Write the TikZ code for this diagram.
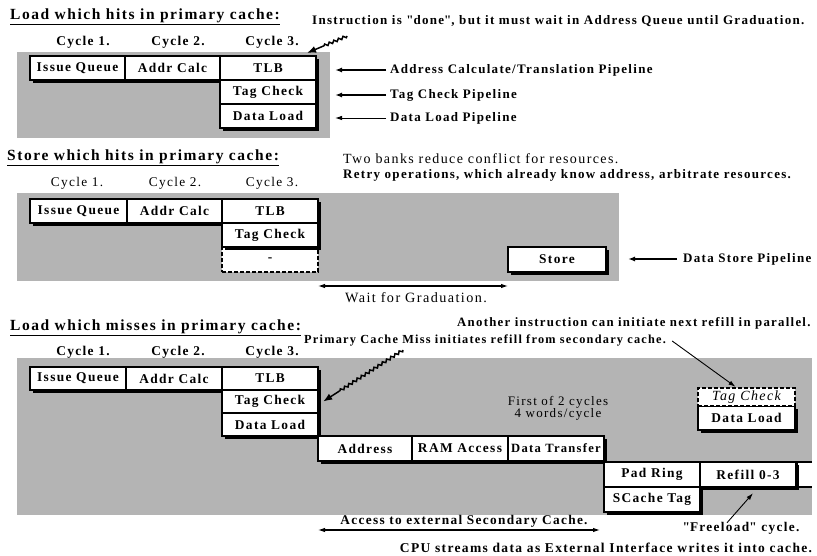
\documentclass[tikz,border=0pt]{standalone}
\usepackage{fontspec}
\setmainfont{Liberation Serif}[LetterSpace=10]
\usetikzlibrary{shadows,decorations.pathmorphing,arrows.meta,calc}
\definecolor{bg}{RGB}{180,180,180}
\newcommand\ttlf{\fontsize{15.5}{17}\selectfont\bfseries}
\newcommand\bxf{\fontsize{13.4}{14}\selectfont\bfseries}
\newcommand\annf{\fontsize{13}{14}\selectfont\bfseries}
\newcommand\regf{\fontsize{13.3}{14}\selectfont}
\tikzset{
  box/.style={draw, fill=white, line width=2.4pt, inner sep=0pt, font=\bxf,
    drop shadow={shadow xshift=2.8pt, shadow yshift=-2.8pt, opacity=1, fill=black}},
  dbox/.style={draw, fill=white, line width=2.4pt, inner sep=0pt, font=\bxf,
    dash pattern=on 4pt off 2pt},
  txt/.style={inner sep=0pt, font=\annf},
  ttl/.style={inner sep=0pt, font=\ttlf, anchor=west},
  cyc/.style={inner sep=0pt, font=\bxf},
  arr/.style={line width=1.6pt, -{Latex[length=7pt,width=5pt]}},
  zarr/.style={line width=1.5pt, -{Latex[length=9pt,width=7pt]}},
  tarr/.style={line width=0.9pt, -{Latex[length=7pt,width=4.5pt]}},
  darr/.style={line width=1.1pt, {Latex[length=7pt,width=4.5pt]}-{Latex[length=7pt,width=4.5pt]}},
  zz/.style={line width=1.5pt, decorate, decoration={zigzag, amplitude=1.3pt, segment length=5pt}},
  bgr/.style={fill=bg, draw=none}
}
\begin{document}
\begin{tikzpicture}[x=1pt,y=-1pt]
\useasboundingbox (0,0) rectangle (817,556);
\fill[white] (0,0) rectangle (817,556);

% ---------------- Section 1 ----------------
\node[ttl] (t1) at (10,17) {\underline{Load which hits in primary cache:}};
\node[cyc] (c11) at (83,42) {Cycle 1.};
\node[cyc] (c12) at (178,42) {Cycle 2.};
\node[cyc] (c13) at (272,42) {Cycle 3.};
\node[txt, anchor=west] (done) at (312,21) {Instruction is \textquotedbl done\textquotedbl, but it must wait in Address Queue until Graduation.};
\fill[bgr] (17,52) rectangle (330,138);
\node[box, minimum width=95pt, minimum height=24pt] (iq1) at (77.5,68) {Issue Queue};
\node[box, minimum width=95pt, minimum height=24pt] (ac1) at (172.5,68) {Addr Calc};
\node[box, minimum width=96pt, minimum height=24pt] (tlb1) at (268,68) {TLB};
\node[box, minimum width=96pt, minimum height=24pt] (tc1) at (268,92) {Tag Check};
\node[box, minimum width=96pt, minimum height=24pt] (dl1) at (268,116) {Data Load};
\coordinate (z1) at (347,36);
\coordinate (z1e) at (307,53);
\coordinate (z1m) at ($(z1)!0.6!(z1e)$);
\draw[zz] (z1) -- (z1m);
\draw[zarr] (z1m) -- (z1e);
\node[txt, anchor=west] (p11) at (390,70) {Address Calculate/Translation Pipeline};
\node[txt, anchor=west] (p12) at (390,95) {Tag Check Pipeline};
\node[txt, anchor=west] (p13) at (390,118) {Data Load Pipeline};
\coordinate (e11) at (335,70);
\coordinate (e12) at (335,95);
\coordinate (e13) at (335,118);
\draw[arr] ([xshift=-4pt]p11.west) -- (e11);
\draw[arr] ([xshift=-4pt]p12.west) -- (e12);
\draw[tarr] ([xshift=-4pt]p13.west) -- (e13);

% ---------------- Section 2 ----------------
\node[ttl] (t2) at (7,158) {\underline{Store which hits in primary cache:}};
\node[cyc, font=\regf] (c21) at (77,183) {Cycle 1.};
\node[cyc, font=\regf] (c22) at (175,183) {Cycle 2.};
\node[cyc, font=\regf] (c23) at (272,183) {Cycle 3.};
\node[txt, font=\fontsize{14}{15}\selectfont, anchor=west] (banks) at (343,159) {Two banks reduce conflict for resources.};
\node[txt, anchor=west] (retry) at (343,175) {Retry operations, which already know address, arbitrate resources.};
\fill[bgr] (17,193) rectangle (619,281);
\node[box, minimum width=97pt, minimum height=24pt] (iq2) at (78.5,211) {Issue Queue};
\node[box, minimum width=95pt, minimum height=24pt] (ac2) at (174.5,211) {Addr Calc};
\node[box, minimum width=96pt, minimum height=24pt] (tlb2) at (270,211) {TLB};
\node[dbox, minimum width=96pt, minimum height=25pt] (ds2) at (270,259.5) {-};
\node[box, minimum width=96pt, minimum height=24pt] (tc2) at (270,235) {Tag Check};
\node[box, minimum width=98pt, minimum height=25pt] (st2) at (557,259.5) {Store};
\node[txt, anchor=west] (dsp) at (683,259) {Data Store Pipeline};
\coordinate (e21) at (628,259);
\draw[arr] ([xshift=-6pt]dsp.west) -- (e21);
\coordinate (w1) at (318,286);
\coordinate (w2) at (508,286);
\draw[darr] (w1) -- (w2);
\node[txt, font=\fontsize{14.2}{15}\selectfont] (wait) at (416,298) {Wait for Graduation.};

% ---------------- Section 3 ----------------
\node[ttl] (t3) at (10,328) {\underline{Load which misses in primary cache:}};
\node[cyc] (c31) at (83,352) {Cycle 1.};
\node[cyc] (c32) at (178,352) {Cycle 2.};
\node[cyc] (c33) at (272,352) {Cycle 3.};
\node[txt, font=\fontsize{12.8}{14}\selectfont\bfseries, anchor=west] (another) at (457,323) {Another instruction can initiate next refill in parallel.};
\node[txt, font=\fontsize{12.3}{14}\selectfont\bfseries, anchor=west] (pcm) at (304,340) {Primary Cache Miss initiates refill from secondary cache.};
\fill[bgr] (17,358) rectangle (812,515);
\node[box, minimum width=96pt, minimum height=23pt] (iq3) at (78,378.5) {Issue Queue};
\node[box, minimum width=96pt, minimum height=23pt] (ac3) at (174,378.5) {Addr Calc};
\node[box, minimum width=96pt, minimum height=23pt] (tlb3) at (270,378.5) {TLB};
\node[box, minimum width=96pt, minimum height=23pt] (tc3) at (270,401.5) {Tag Check};
\node[box, minimum width=96pt, minimum height=23pt] (dl3) at (270,424.5) {Data Load};
\node[box, minimum width=94pt, minimum height=25pt] (addr) at (365,448.5) {Address};
\node[box, minimum width=96pt, minimum height=25pt] (ram) at (460,448.5) {RAM Access};
\node[box, minimum width=96pt, minimum height=25pt, font=\fontsize{12.6}{14}\selectfont\bfseries] (dt) at (556,448.5) {Data Transfer};
\node[box, minimum width=96pt, minimum height=25pt] (pad) at (652,474.5) {Pad Ring};
\node[box, minimum width=96pt, minimum height=25pt] (sct) at (652,499.5) {SCache Tag};
\fill[white] (797,462) rectangle (812,487);
\draw[line width=2.4pt] (812,462) -- (797,462) -- (797,487) -- (812,487);
\node[box, minimum width=96pt, minimum height=25pt] (ref) at (748,474.5) {Refill 0-3};
\node[box, minimum width=97pt, minimum height=24pt] (dlI) at (746.5,418) {Data Load};
\node[dbox, minimum width=97pt, minimum height=18pt, font=\fontsize{14}{14}\selectfont\itshape] (tcI) at (746.5,397) {Tag Check};
\node[txt, font=\fontsize{13}{14}\selectfont, align=center] (first) at (558,408) {First of 2 cycles\\[-2pt]4 words/cycle};
\coordinate (z3) at (403,350);
\coordinate (z3e) at ([xshift=4pt]tc3.east);
\coordinate (z3m) at ($(z3)!0.8!(z3e)$);
\draw[zz] (z3) -- (z3m);
\draw[zarr] (z3m) -- (z3e);
\draw[tarr] ([xshift=6pt,yshift=-1pt]pcm.east) -- ([xshift=-11pt]tcI.north);
\node[txt, font=\fontsize{13.3}{14}\selectfont\bfseries] (acc) at (464,521) {Access to external Secondary Cache.};
\coordinate (a1) at (318,530);
\coordinate (a2) at (600,530);
\draw[darr] (a1) -- (a2);
\node[txt, font=\fontsize{13.3}{14}\selectfont\bfseries] (free) at (741,528) {\textquotedbl Freeload\textquotedbl\ cycle.};
\draw[tarr] ([xshift=-14pt, yshift=-1pt]free.north) -- ([xshift=5pt,yshift=-5pt]ref.south);
\node[txt, font=\fontsize{13.5}{14}\selectfont\bfseries] (cpu) at (606,548) {CPU streams data as External Interface writes it into cache.};
\end{tikzpicture}
\end{document}
